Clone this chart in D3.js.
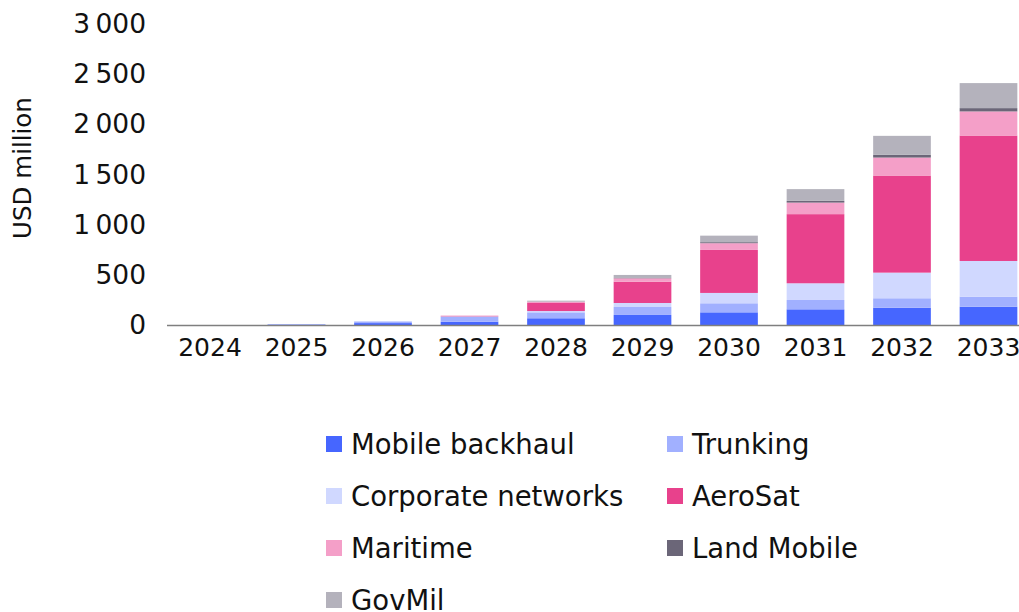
<!DOCTYPE html>
<html>
<head>
<meta charset="utf-8">
<script src="https://cdn.jsdelivr.net/npm/d3@7"></script>
<style>
  html, body { margin: 0; padding: 0; background: #ffffff; }
  svg { display: block; }
  text { font-family: "DejaVu Sans", sans-serif; fill: #111111; }
</style>
</head>
<body>
<svg id="chart" width="1019" height="612"></svg>
<script>
// Satellite connectivity revenue by segment, USD million
const years = ["2024", "2025", "2026", "2027", "2028", "2029", "2030", "2031", "2032", "2033"];
const mobileBackhaul    = [3, 9, 24, 38, 72, 105, 131, 161, 177, 187];
const trunking          = [2, 6, 16, 50, 59, 79, 90, 93, 94, 100];
const corporateNetworks = [0, 0, 2, 3, 13, 40, 103, 166, 255, 355];
const aeroSat           = [0, 0, 0, 5, 80, 212, 428, 688, 966, 1248];
const maritime          = [0, 0, 0, 2, 13, 34, 67, 115, 179, 240];
const landMobile        = [0, 0, 0, 0, 2, 3, 10, 17, 27, 33];
const govMil            = [0, 0, 0, 0, 8, 30, 65, 117, 189, 249];
const seriesNames = ["Mobile backhaul", "Trunking", "Corporate networks", "AeroSat", "Maritime", "Land Mobile", "GovMil"];
const seriesColors = ["#4666ff", "#a1b0ff", "#d0d8ff", "#e8418c", "#f49fc8", "#6b6678", "#b4b2bc"];
const yTicks = [0, 500, 1000, 1500, 2000, 2500, 3000];

const seriesValues = [mobileBackhaul, trunking, corporateNetworks, aeroSat, maritime, landMobile, govMil];
const rows = years.map((y, i) => {
  const r = { year: y };
  seriesNames.forEach((n, k) => { r[n] = seriesValues[k][i]; });
  return r;
});

const svg = d3.select("#chart");

const x = d3.scaleBand().domain(years).range([166.75, 1031.75]).paddingInner(0.333).paddingOuter(0.1665);
const y = d3.scaleLinear().domain([0, 3000]).range([325.5, 24]);
const color = d3.scaleOrdinal().domain(seriesNames).range(seriesColors);

const stacked = d3.stack().keys(seriesNames)(rows);

// stacked bars
svg.append("g")
  .selectAll("g")
  .data(stacked)
  .join("g")
  .attr("fill", d => color(d.key))
  .selectAll("rect")
  .data(d => d)
  .join("rect")
  .attr("x", d => x(d.data.year))
  .attr("width", x.bandwidth())
  .attr("y", d => y(d[1]))
  .attr("height", d => Math.max(0, y(d[0]) - y(d[1])));

// y axis labels
const yAxis = d3.axisLeft(y)
  .tickValues(yTicks)
  .tickSize(0)
  .tickPadding(0)
  .tickFormat(v => d3.format(",")(v).replace(/,/g, "\u2009"));
svg.append("g")
  .attr("transform", "translate(146,0)")
  .call(yAxis)
  .call(g => g.select(".domain").remove())
  .selectAll("text")
  .attr("font-size", 26.5)
  .attr("fill", "#111");

// x axis
const xAxis = d3.axisBottom(x).tickSize(0).tickPadding(13);
svg.append("g")
  .attr("transform", "translate(0,325.5)")
  .call(xAxis)
  .call(g => g.select(".domain").attr("stroke", "#7f7f7f").attr("stroke-width", 1.5)
    .attr("d", "M167,0H1019"))
  .selectAll("text")
  .attr("font-size", 25)
  .attr("fill", "#111");

// y axis title
svg.append("text")
  .attr("transform", "translate(31,168) rotate(-90)")
  .attr("text-anchor", "middle")
  .attr("font-size", 24.5)
  .text("USD million");

// legend, two columns
const legend = svg.append("g");
const legendItems = legend.selectAll("g")
  .data(seriesNames)
  .join("g")
  .attr("transform", (d, i) => `translate(${i % 2 === 0 ? 326 : 667},${444 + Math.floor(i / 2) * 52})`);
legendItems.append("rect")
  .attr("x", 0).attr("y", -8)
  .attr("width", 16).attr("height", 16)
  .attr("fill", d => color(d));
legendItems.append("text")
  .attr("x", 25).attr("y", 0)
  .attr("dy", "0.36em")
  .attr("font-size", 27.5)
  .text(d => d);
</script>
</body>
</html>
